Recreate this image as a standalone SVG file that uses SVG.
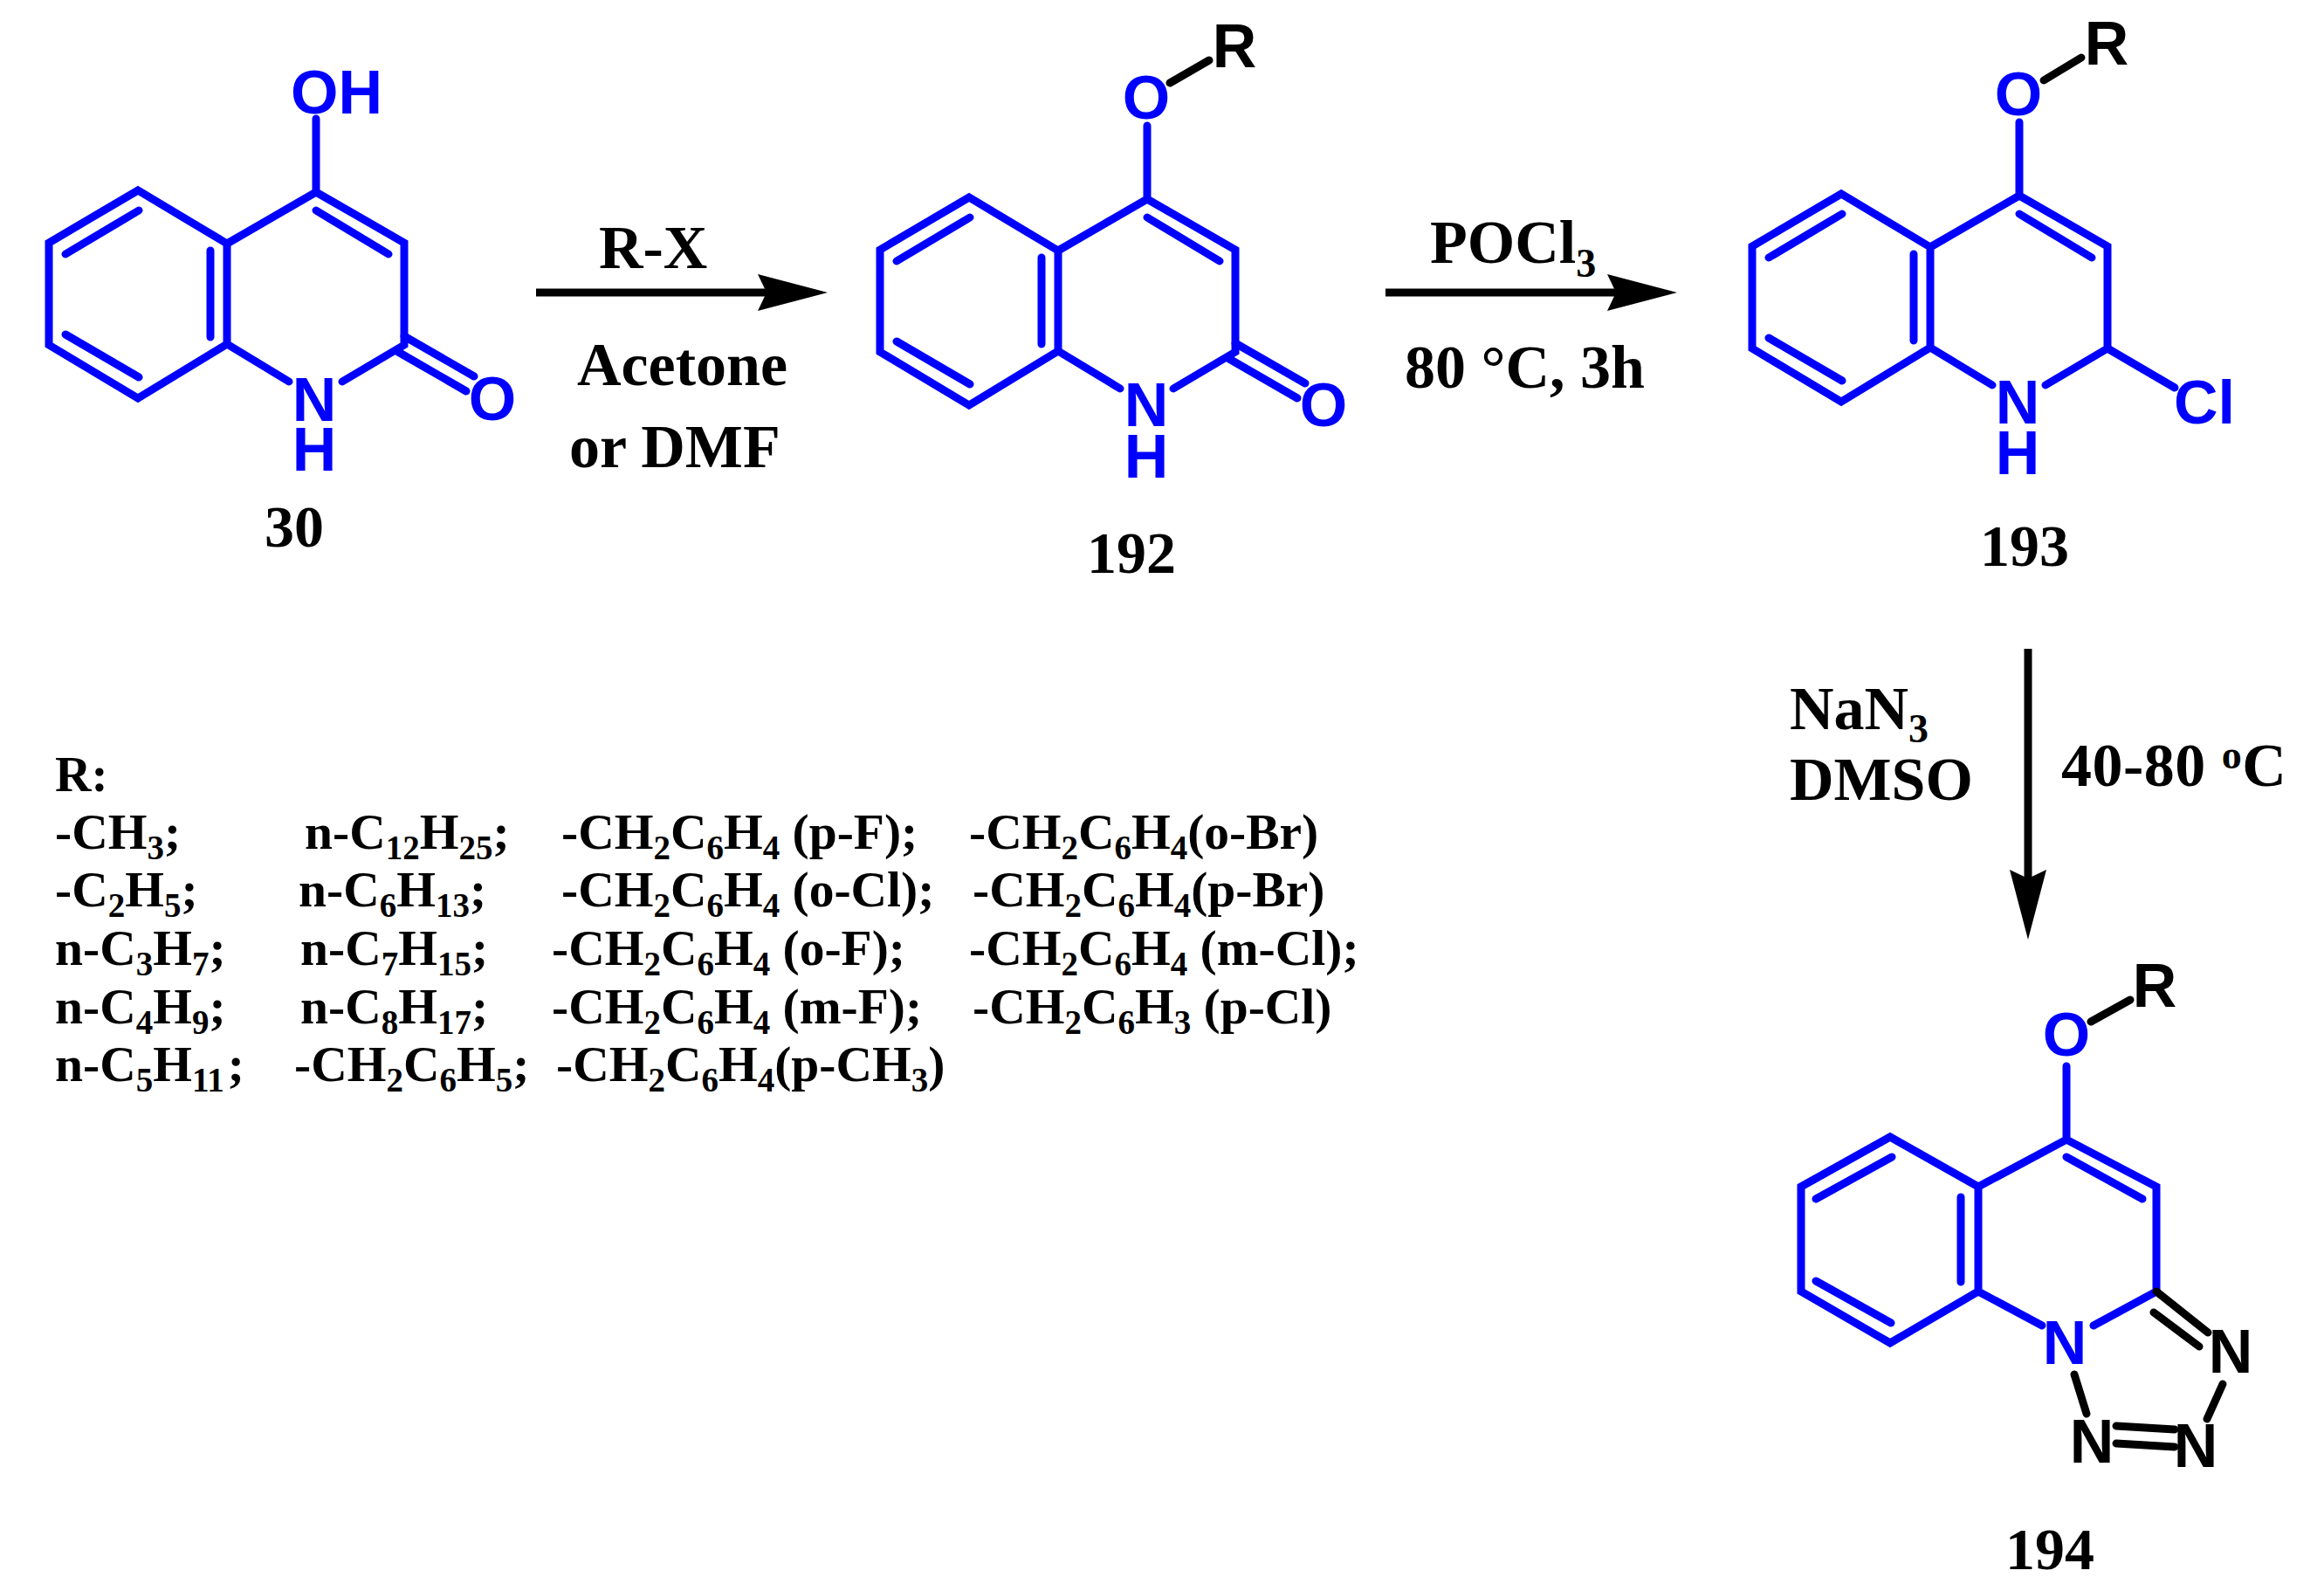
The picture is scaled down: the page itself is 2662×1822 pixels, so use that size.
<svg xmlns="http://www.w3.org/2000/svg" xmlns:xlink="http://www.w3.org/1999/xlink" width="2662" height="1822" viewBox="0 0 2662 1822">
<style>
.b{fill:none;stroke:#0000ff;stroke-width:9;stroke-linecap:round;stroke-linejoin:miter}
.k{fill:none;stroke:#000;stroke-width:9;stroke-linecap:round}
.a{font-family:"Liberation Sans",Arial,sans-serif;font-weight:bold;font-size:70px;fill:#0000ff;text-anchor:middle}
.ak{fill:#000}
.t{font-family:"Liberation Serif","Times New Roman",serif;font-weight:bold;font-size:70px;fill:#000}
.num{font-size:68px}
.l{font-family:"Liberation Serif","Times New Roman",serif;font-weight:bold;font-size:57.5px;fill:#000}
.s{font-size:39px}
.s2{font-size:46px}
.arr{fill:none;stroke:#000;stroke-width:9}
</style>
<defs>
<marker id="head" viewBox="0 0 80 42" refX="10" refY="21" markerWidth="80" markerHeight="42" markerUnits="userSpaceOnUse" orient="auto"><path d="M0,0 L80,21 L0,42 L10,21 Z" fill="#000"/></marker>
<g id="core"><path class="b" d="M260,279 L158,218 L56,278 L56,395 L158,456 L260,394 Z M260,279 L362,220 L463,278 L463,395 L392,437 M260,394 L331,437 M75,291 L159,241 M241,287 V386 M75,383 L159,432 M362,241 L445,291 M362,220 V136"/></g>
</defs>
<g id="n30">
<use href="#core"/>
<path class="b" d="M463,385 L543,431 M456,403 L534,448"/>
<text class="a" x="333" y="130" style="text-anchor:start">OH</text>
<text class="a"><tspan x="360" y="482">N</tspan><tspan x="360" y="539">H</tspan></text>
<text class="a" x="564" y="481">O</text>
<text class="t num" x="303" y="626">30</text>
</g>
<g id="n192">
<use href="#core" x="952" y="8"/>
<path class="b" d="M1415,393 L1495,439 M1408,411 L1486,456"/>
<path class="k" d="M1340,95 L1385,69"/>
<text class="a" x="1313" y="136">O</text>
<text class="a ak" x="1414" y="77">R</text>
<text class="a"><tspan x="1313" y="488">N</tspan><tspan x="1313" y="547">H</tspan></text>
<text class="a" x="1516" y="488">O</text>
<text class="t num" x="1245" y="656">192</text>
</g>
<g id="n193">
<use href="#core" x="1951" y="4"/>
<path class="b" d="M2414,399 L2491,444"/>
<path class="k" d="M2341,92 L2384,66"/>
<text class="a" x="2312" y="132">O</text>
<text class="a ak" x="2413" y="74">R</text>
<text class="a"><tspan x="2311" y="485">N</tspan><tspan x="2311" y="543">H</tspan></text>
<text class="a" x="2525" y="485">Cl</text>
<text class="t num" x="2268" y="648">193</text>
</g>
<g id="n194">
<path class="b" d="M2266,1359 L2165,1302 L2063,1359 L2063,1479 L2165,1538 L2266,1479 Z M2266,1359 L2367,1305 L2470,1359 L2470,1479 L2398,1518 M2266,1479 L2339,1518 M2080,1373 L2167,1325 M2246,1371 V1468 M2080,1467 L2166,1515 M2367,1325 L2454,1373 M2367,1305 V1221"/>
<path class="k" d="M2470,1479 L2529,1526 M2467,1503 L2519,1542 M2376,1574 L2390,1619 M2424,1633 L2491,1637 M2424,1653 L2491,1657 M2546,1585 L2528,1625 M2395,1170 L2440,1145"/>
<text class="a" x="2367" y="1209">O</text>
<text class="a ak" x="2468" y="1153">R</text>
<text class="a" x="2365" y="1562">N</text>
<text class="a ak" x="2396" y="1675">N</text>
<text class="a ak" x="2515" y="1680">N</text>
<text class="a ak" x="2555" y="1572">N</text>
<text class="t num" x="2297" y="1797">194</text>
</g>
<g id="connectors">
<path class="arr" d="M614,335 H878" marker-end="url(#head)"/>
<path class="arr" d="M1587,335 H1851" marker-end="url(#head)"/>
<path class="arr" d="M2323,743 V1006" marker-end="url(#head)"/>
</g>
<g id="conditions">
<text class="t" x="686" y="307">R-X</text>
<text class="t" x="661" y="441">Acetone</text>
<text class="t" x="652" y="535">or DMF</text>
<text class="t" x="1638" y="301">POCl<tspan class="s2" dy="16">3</tspan></text>
<text class="t" x="1609" y="444">80 °C, 3h</text>
<text class="t" x="2050" y="835">NaN<tspan class="s2" dy="15">3</tspan></text>
<text class="t" x="2050" y="916">DMSO</text>
<text class="t" x="2361" y="900" letter-spacing="0.5">40-80 <tspan class="s2" dy="-20">o</tspan><tspan dy="20">C</tspan></text>
</g>
<g id="substituents">
<text class="l" x="63" y="906">R:</text>
<text class="l" x="63" y="972">-CH<tspan class="s" dy="12">3</tspan><tspan dy="-12">;</tspan></text>
<text class="l" x="349" y="972">n-C<tspan class="s" dy="12">12</tspan><tspan dy="-12">H</tspan><tspan class="s" dy="12">25</tspan><tspan dy="-12">;</tspan></text>
<text class="l" x="643" y="972">-CH<tspan class="s" dy="12">2</tspan><tspan dy="-12">C</tspan><tspan class="s" dy="12">6</tspan><tspan dy="-12">H</tspan><tspan class="s" dy="12">4</tspan><tspan dy="-12"> (p-F);</tspan></text>
<text class="l" x="1110" y="972">-CH<tspan class="s" dy="12">2</tspan><tspan dy="-12">C</tspan><tspan class="s" dy="12">6</tspan><tspan dy="-12">H</tspan><tspan class="s" dy="12">4</tspan><tspan dy="-12">(o-Br)</tspan></text>
<text class="l" x="63" y="1038">-C<tspan class="s" dy="12">2</tspan><tspan dy="-12">H</tspan><tspan class="s" dy="12">5</tspan><tspan dy="-12">;</tspan></text>
<text class="l" x="342" y="1038">n-C<tspan class="s" dy="12">6</tspan><tspan dy="-12">H</tspan><tspan class="s" dy="12">13</tspan><tspan dy="-12">;</tspan></text>
<text class="l" x="643" y="1038">-CH<tspan class="s" dy="12">2</tspan><tspan dy="-12">C</tspan><tspan class="s" dy="12">6</tspan><tspan dy="-12">H</tspan><tspan class="s" dy="12">4</tspan><tspan dy="-12"> (o-Cl);</tspan></text>
<text class="l" x="1114" y="1038">-CH<tspan class="s" dy="12">2</tspan><tspan dy="-12">C</tspan><tspan class="s" dy="12">6</tspan><tspan dy="-12">H</tspan><tspan class="s" dy="12">4</tspan><tspan dy="-12">(p-Br)</tspan></text>
<text class="l" x="63" y="1105">n-C<tspan class="s" dy="12">3</tspan><tspan dy="-12">H</tspan><tspan class="s" dy="12">7</tspan><tspan dy="-12">;</tspan></text>
<text class="l" x="344" y="1105">n-C<tspan class="s" dy="12">7</tspan><tspan dy="-12">H</tspan><tspan class="s" dy="12">15</tspan><tspan dy="-12">;</tspan></text>
<text class="l" x="632" y="1105">-CH<tspan class="s" dy="12">2</tspan><tspan dy="-12">C</tspan><tspan class="s" dy="12">6</tspan><tspan dy="-12">H</tspan><tspan class="s" dy="12">4</tspan><tspan dy="-12"> (o-F);</tspan></text>
<text class="l" x="1110" y="1105">-CH<tspan class="s" dy="12">2</tspan><tspan dy="-12">C</tspan><tspan class="s" dy="12">6</tspan><tspan dy="-12">H</tspan><tspan class="s" dy="12">4</tspan><tspan dy="-12"> (m-Cl);</tspan></text>
<text class="l" x="63" y="1172">n-C<tspan class="s" dy="12">4</tspan><tspan dy="-12">H</tspan><tspan class="s" dy="12">9</tspan><tspan dy="-12">;</tspan></text>
<text class="l" x="344" y="1172">n-C<tspan class="s" dy="12">8</tspan><tspan dy="-12">H</tspan><tspan class="s" dy="12">17</tspan><tspan dy="-12">;</tspan></text>
<text class="l" x="632" y="1172">-CH<tspan class="s" dy="12">2</tspan><tspan dy="-12">C</tspan><tspan class="s" dy="12">6</tspan><tspan dy="-12">H</tspan><tspan class="s" dy="12">4</tspan><tspan dy="-12"> (m-F);</tspan></text>
<text class="l" x="1114" y="1172">-CH<tspan class="s" dy="12">2</tspan><tspan dy="-12">C</tspan><tspan class="s" dy="12">6</tspan><tspan dy="-12">H</tspan><tspan class="s" dy="12">3</tspan><tspan dy="-12"> (p-Cl)</tspan></text>
<text class="l" x="63" y="1238">n-C<tspan class="s" dy="12">5</tspan><tspan dy="-12">H</tspan><tspan class="s" dy="12">11</tspan><tspan dy="-12" dx="4">;</tspan></text>
<text class="l" x="337" y="1238">-CH<tspan class="s" dy="12">2</tspan><tspan dy="-12">C</tspan><tspan class="s" dy="12">6</tspan><tspan dy="-12">H</tspan><tspan class="s" dy="12">5</tspan><tspan dy="-12">;</tspan></text>
<text class="l" x="637" y="1238">-CH<tspan class="s" dy="12">2</tspan><tspan dy="-12">C</tspan><tspan class="s" dy="12">6</tspan><tspan dy="-12">H</tspan><tspan class="s" dy="12">4</tspan><tspan dy="-12">(p-CH</tspan><tspan class="s" dy="12">3</tspan><tspan dy="-12">)</tspan></text>
</g>
</svg>
